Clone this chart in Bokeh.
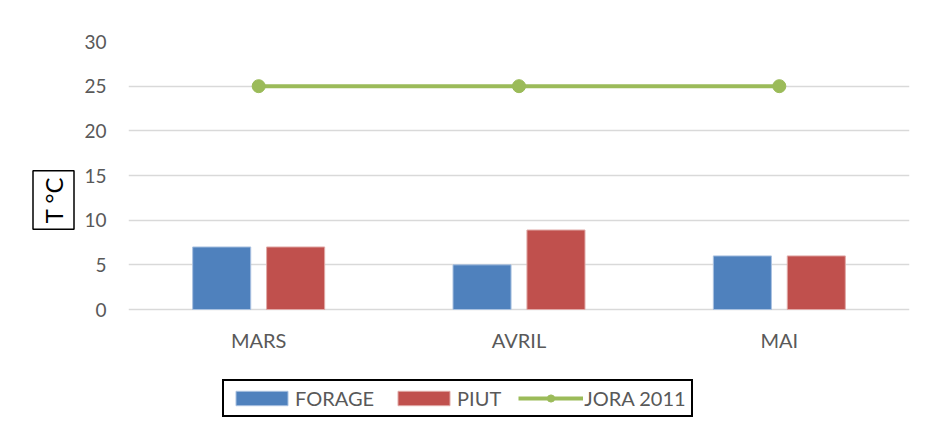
from bokeh.plotting import figure
from bokeh.models import ColumnDataSource, Legend, LegendItem, FixedTicker, Label
from bokeh.transform import dodge
from bokeh.core.properties import value
from bokeh.embed import file_html
from bokeh.resources import INLINE
import math

months = ["MARS", "AVRIL", "MAI"]
forage = [7, 5, 6]
piut = [7, 8.9, 6]
jora = [25, 25, 25]
y_ticks = [0, 5, 10, 15, 20, 25, 30]

FONT = "Lato"
GRAY = "#595959"

src = ColumnDataSource(data=dict(month=months, forage=forage, piut=piut, jora=jora))

p = figure(x_range=months, y_range=(-12.2, 30), width=917, height=418,
           output_backend="svg", toolbar_location=None,
           min_border_left=128, min_border_right=8, min_border_top=41, min_border_bottom=0)
p.outline_line_color = None
p.background_fill_color = "white"
p.border_fill_color = "white"

b1 = p.vbar(x=dodge("month", -0.142, range=p.x_range), top="forage", width=0.223, source=src,
            fill_color="#4f81bd", line_color="#a9c1e0", line_width=1)
b2 = p.vbar(x=dodge("month", 0.142, range=p.x_range), top="piut", width=0.223, source=src,
            fill_color="#c0504d", line_color="#e0a9a7", line_width=1)
ln = p.line(x="month", y="jora", source=src, line_color="#9bbb59", line_width=4)
sc = p.scatter(x="month", y="jora", source=src, size=13, fill_color="#9bbb59", line_color="#9bbb59")

# category labels under the zero line
p.text(x="month", y=-3.4, text="month", source=src, text_align="center", text_baseline="middle",
       text_font=value(FONT), text_font_size="20px", text_color=GRAY)

p.xaxis.visible = False
p.xgrid.grid_line_color = None
p.ygrid.grid_line_color = "#d9d9d9"
p.ygrid.grid_line_width = 1.5
ya = p.yaxis[0]
ya.ticker = FixedTicker(ticks=y_ticks)
ya.axis_line_color = None
ya.major_tick_line_color = None
ya.minor_tick_line_color = None
ya.major_tick_out = 0
ya.minor_tick_out = 0
ya.major_label_standoff = 22
ya.major_label_text_font = FONT
ya.major_label_text_font_size = "19px"
ya.major_label_text_color = GRAY

lab = Label(x=13, y=12.26, x_units="screen", y_units="data", text="T °C", angle=math.pi / 2,
            text_align="center", text_baseline="middle",
            text_font=FONT, text_font_size="24px", text_color="black",
            border_line_color="black", border_line_width=1.5,
            background_fill_color="white", padding=6)
p.add_layout(lab, "left")

legend = Legend(items=[
    LegendItem(label="FORAGE", renderers=[b1]),
    LegendItem(label="PIUT", renderers=[b2]),
    LegendItem(label="JORA 2011", renderers=[ln, sc]),
], orientation="horizontal", location=(94, 1))
legend.label_text_font = FONT
legend.label_text_font_size = "20px"
legend.label_text_color = GRAY
legend.glyph_width = 65
legend.glyph_height = 18
legend.label_height = 18
legend.label_standoff = 1
legend.spacing = 17
legend.padding = 5
legend.margin = 0
legend.border_line_color = "black"
legend.border_line_alpha = 1
legend.border_line_width = 2
legend.background_fill_alpha = 1
p.add_layout(legend)

open("out.html", "w").write(file_html(p, INLINE))
